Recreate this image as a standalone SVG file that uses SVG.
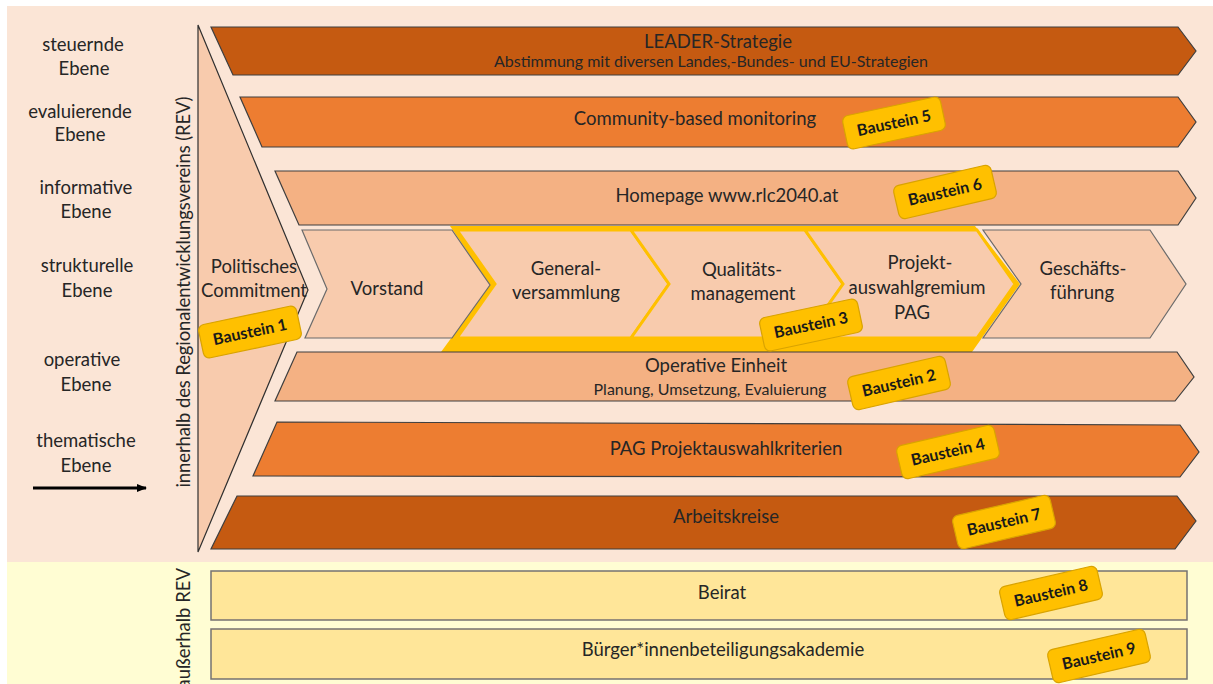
<svg xmlns="http://www.w3.org/2000/svg" width="1213" height="684" viewBox="0 0 1213 684">
  <defs>
    <style>
      .t { font-family: Lato, "Open Sans", "Liberation Sans", sans-serif; fill: #262626; text-anchor: middle; }
      .lbl { font-size: 18.5px; }
      .sub { font-size: 16px; }
      .band { stroke: #3f3f3f; stroke-width: 1.2; stroke-linejoin: miter; }
      .dark { fill: #C55A11; }
      .mid { fill: #ED7D31; }
      .light { fill: #F4B183; }
      .chev { fill: #F8CBAD; stroke: #6b6b6b; stroke-width: 1.2; }
      .chevY { fill: #F8CBAD; stroke: #FFC000; stroke-width: 3; stroke-linejoin: miter; }
      .box { fill: #FFE699; stroke: #767171; stroke-width: 1.5; }
      .badge rect { fill: #FFC000; stroke: #D9A300; stroke-width: 1.2; }
      .badge text { font-family: Lato, "Open Sans", "Liberation Sans", sans-serif; font-weight: bold; font-size: 16px; fill: #1a1a1a; text-anchor: middle; }
    </style>
    <marker id="arrowHead" markerWidth="10" markerHeight="8" refX="9" refY="4" orient="auto" markerUnits="userSpaceOnUse">
      <path d="M0,0 L10,4 L0,8 Z" fill="#000"/>
    </marker>
  </defs>

  <!-- backgrounds -->
  <rect x="0" y="0" width="1213" height="684" fill="#ffffff"/>
  <rect x="7" y="6" width="1206" height="556" fill="#FBE5D6"/>
  <rect x="7" y="562" width="1206" height="122" fill="#FFFDD3"/>

  <!-- level labels -->
  <g id="levels">
    <text class="t lbl" x="83" y="51">steuernde</text>
    <text class="t lbl" x="84" y="75">Ebene</text>
    <text class="t lbl" x="80" y="118">evaluierende</text>
    <text class="t lbl" x="80" y="141">Ebene</text>
    <text class="t lbl" x="86" y="194">informative</text>
    <text class="t lbl" x="86" y="218">Ebene</text>
    <text class="t lbl" x="87" y="272">strukturelle</text>
    <text class="t lbl" x="87" y="297">Ebene</text>
    <text class="t lbl" x="82" y="366">operative</text>
    <text class="t lbl" x="86" y="391">Ebene</text>
    <text class="t lbl" x="86" y="447">thematische</text>
    <text class="t lbl" x="86" y="472">Ebene</text>
  </g>

  <!-- side captions -->
  <text class="t lbl" transform="translate(190,292) rotate(-90)" textLength="391">innerhalb des Regionalentwicklungsvereins (REV)</text>
  <text class="t lbl" style="text-anchor:end" transform="translate(190,568) rotate(-90)">außerhalb REV</text>

  <!-- political commitment wedge -->
  <g id="commitment">
    <polygon points="198,25 308,290 198,552" fill="#F8CBAD" stroke="#2f2f2f" stroke-width="1.2"/>
    <text class="t lbl" x="254" y="273">Politisches</text>
    <text class="t lbl" x="254" y="297">Commitment</text>
  </g>

  <!-- layered bands -->
  <g id="leader">
    <polygon class="band dark" points="211,27 1178,27 1196,51 1178,75 233,75"/>
    <text class="t lbl" x="718" y="48">LEADER-Strategie</text>
    <text class="t sub" x="711" y="67">Abstimmung mit diversen Landes,-Bundes- und EU-Strategien</text>
  </g>
  <g id="monitoring">
    <polygon class="band mid" points="240,97 1178,97 1196,122 1178,147 262,147"/>
    <text class="t lbl" x="695" y="125">Community-based monitoring</text>
  </g>
  <g id="homepage">
    <polygon class="band light" points="275,171 1178,171 1196,198 1178,225 299,225"/>
    <text class="t lbl" x="727" y="202">Homepage www.rlc2040.at</text>
  </g>

  <!-- structural chevron row -->
  <g id="yellowFrame">
    <polygon points="450,226 975,226 1020,284 972,352 441,352 490,285" fill="#FFC000"/>
  </g>
  <g id="vorstand">
    <polygon class="chev" points="302,230 452,230 490,285 452,338 305,338 327,289"/>
    <text class="t lbl" x="387" y="295">Vorstand</text>
  </g>
  <g id="generalversammlung">
    <polygon class="chevY" points="457,230 631,230 669,284 631,338 457,338 495,284"/>
    <text class="t lbl" x="566" y="275">General-</text>
    <text class="t lbl" x="566" y="299">versammlung</text>
  </g>
  <g id="qualitaetsmanagement">
    <polygon class="chevY" points="631,230 805,230 843,284 805,338 631,338 669,284"/>
    <text class="t lbl" x="742" y="276">Qualitäts-</text>
    <text class="t lbl" x="743" y="300">management</text>
  </g>
  <g id="projektauswahlgremium">
    <polygon class="chevY" points="805,230 977,230 1015,284 977,338 805,338 843,284"/>
    <text class="t lbl" x="920" y="269">Projekt-</text>
    <text class="t lbl" x="917" y="294">auswahlgremium</text>
    <text class="t lbl" x="912" y="319">PAG</text>
  </g>
  <g id="geschaeftsfuehrung">
    <polygon class="chev" points="983,230 1150,230 1186,284 1150,338 983,338 1021,284"/>
    <text class="t lbl" x="1083" y="275">Geschäfts-</text>
    <text class="t lbl" x="1082" y="299">führung</text>
  </g>

  <g id="operative">
    <polygon class="band light" points="297,352 1177,352 1194,377 1175,401 275,401"/>
    <text class="t lbl" x="716" y="372">Operative Einheit</text>
    <text class="t sub" x="710" y="395">Planung, Umsetzung, Evaluierung</text>
  </g>
  <g id="kriterien">
    <polygon class="band mid" points="277,422 1180,425 1199,452 1180,477 253,476"/>
    <text class="t lbl" x="726" y="455">PAG Projektauswahlkriterien</text>
  </g>
  <g id="arbeitskreise">
    <polygon class="band dark" points="237,496 1177,496 1196,521 1175,549 211,549"/>
    <text class="t lbl" x="726" y="523">Arbeitskreise</text>
  </g>

  <!-- outside the association -->
  <g id="beirat">
    <rect class="box" x="211" y="571" width="976" height="49"/>
    <text class="t lbl" x="722" y="599">Beirat</text>
  </g>
  <g id="akademie">
    <rect class="box" x="211" y="629" width="976" height="50"/>
    <text class="t lbl" x="723" y="656">Bürger*innenbeteiligungsakademie</text>
  </g>

  <!-- building-block tags -->
  <g id="baustein1" class="badge" transform="translate(250,332) rotate(-12)">
    <rect x="-50" y="-17" width="100" height="34" rx="6"/>
    <text x="0" y="5.5">Baustein 1</text>
  </g>
  <g id="baustein5" class="badge" transform="translate(894,123) rotate(-12)">
    <rect x="-50" y="-17" width="100" height="34" rx="6"/>
    <text x="0" y="5.5">Baustein 5</text>
  </g>
  <g id="baustein6" class="badge" transform="translate(945,192) rotate(-13)">
    <rect x="-50" y="-17" width="100" height="34" rx="6"/>
    <text x="0" y="5.5">Baustein 6</text>
  </g>
  <g id="baustein3" class="badge" transform="translate(811,325) rotate(-12)">
    <rect x="-50" y="-17" width="100" height="34" rx="6"/>
    <text x="0" y="5.5">Baustein 3</text>
  </g>
  <g id="baustein2" class="badge" transform="translate(899,383) rotate(-13)">
    <rect x="-50" y="-17" width="100" height="34" rx="6"/>
    <text x="0" y="5.5">Baustein 2</text>
  </g>
  <g id="baustein4" class="badge" transform="translate(948,452) rotate(-13)">
    <rect x="-50" y="-17" width="100" height="34" rx="6"/>
    <text x="0" y="5.5">Baustein 4</text>
  </g>
  <g id="baustein7" class="badge" transform="translate(1004,522) rotate(-13)">
    <rect x="-50" y="-17" width="100" height="34" rx="6"/>
    <text x="0" y="5.5">Baustein 7</text>
  </g>
  <g id="baustein8" class="badge" transform="translate(1051,593) rotate(-13)">
    <rect x="-50" y="-17" width="100" height="34" rx="6"/>
    <text x="0" y="5.5">Baustein 8</text>
  </g>
  <g id="baustein9" class="badge" transform="translate(1099,656) rotate(-13)">
    <rect x="-50" y="-17" width="100" height="34" rx="6"/>
    <text x="0" y="5.5">Baustein 9</text>
  </g>

  <!-- connectors -->
  <g id="connectors">
    <line x1="33" y1="488" x2="146" y2="488" stroke="#000" stroke-width="3" marker-end="url(#arrowHead)"/>
  </g>
</svg>
